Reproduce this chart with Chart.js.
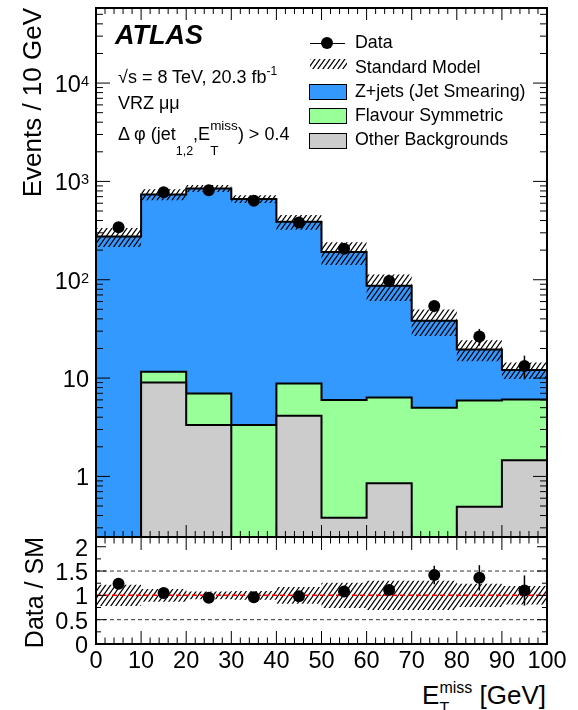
<!DOCTYPE html>
<html>
<head>
<meta charset="utf-8">
<title>VRZ mumu - missing transverse momentum</title>
<script src="https://cdn.jsdelivr.net/npm/chart.js@4.4.1/dist/chart.umd.min.js"></script>
<style>
  html, body { margin: 0; padding: 0; background: #fff; }
  #wrap { position: relative; width: 578px; height: 710px; overflow: hidden;
          font-family: "Liberation Sans", Arial, Helvetica, sans-serif; color: #000; }
  #wrap canvas { position: absolute; left: 0; }
  .t { position: absolute; white-space: nowrap; line-height: 1; }
  .ss { display: inline-block; position: relative; line-height: 1; }
  .ss .up { display: block; position: relative; }
  .ss .dn { position: absolute; left: 0; }
  .rot { position: absolute; width: 300px; text-align: right; white-space: nowrap; line-height: 1;
         transform-origin: 0 0; transform: rotate(-90deg); }
  .box { position: absolute; box-sizing: border-box; border: 1.5px solid #000; width: 38px; height: 16px; }
</style>
</head>
<body>
<div id="wrap">
  <canvas id="mainChart" width="578" height="545" style="top:0;width:578px;height:545px"></canvas>
  <canvas id="ratioChart" width="578" height="130" style="top:530px;width:578px;height:130px"></canvas>

  <!-- annotations -->
  <div class="t" style="left:115px; top:22px; font-size:27px; font-weight:bold; font-style:italic">ATLAS</div>
  <div class="t" style="left:118px; top:68px; font-size:18px">√s = 8 TeV, 20.3 fb<span style="font-size:12px; position:relative; top:-8px">-1</span></div>
  <div class="t" style="left:118px; top:94px; font-size:18px">VRZ μμ</div>
  <div class="t" style="left:118px; top:125px; font-size:18px">Δ φ (jet<span style="font-size:12.5px; position:relative; top:15px">1,2</span>,E<span class="ss" style="font-size:13.5px"><span class="up" style="top:-10px">miss</span><span class="dn" style="top:15px">T</span></span>) &gt; 0.4</div>

  <!-- legend -->
  <div style="position:absolute; left:310px; top:42.5px; width:35px; height:1.5px; background:#000"></div>
  <div style="position:absolute; left:321px; top:37px; width:12px; height:12px; border-radius:50%; background:#000"></div>
  <canvas id="legHatch" width="37" height="10" style="left:310px; top:59px"></canvas>
  <div class="box" style="left:309px; top:84px; background:#3399ff"></div>
  <div class="box" style="left:309px; top:108px; background:#99ff99"></div>
  <div class="box" style="left:309px; top:132.5px; background:#cccccc"></div>
  <div class="t" style="left:355px; top:34.3px; font-size:17.8px">Data</div>
  <div class="t" style="left:355px; top:58.5px; font-size:17.8px">Standard Model</div>
  <div class="t" style="left:355px; top:82.8px; font-size:17.8px">Z+jets (Jet Smearing)</div>
  <div class="t" style="left:355px; top:107px; font-size:17.8px">Flavour Symmetric</div>
  <div class="t" style="left:355px; top:131.3px; font-size:17.8px">Other Backgrounds</div>

  <!-- axis titles -->
  <div class="rot" style="left:19px; top:308px; font-size:26px">Events / 10 GeV</div>
  <div class="rot" style="left:22px; top:837px; font-size:25px">Data / SM</div>
  <div class="t" style="right:32px; top:682px; font-size:26px">E<span class="ss" style="font-size:16px"><span class="up" style="top:-11px">miss</span><span class="dn" style="top:10px">T</span></span> [GeV]</div>
</div>

<script>
// values (events per 10 GeV bin)
const binEdges = [0, 10, 20, 30, 40, 50, 60, 70, 80, 90, 100];
const dataEvents = [341, 774, 811, 637, 383, 207, 97, 54, 26.5, 13.3];
const dataErr = [18.5, 27.8, 28.5, 25.2, 19.6, 14.4, 9.8, 7.3, 5.1, 3.6];
const zJets = [276, 726, 842, 659, 380, 185, 80.6, 33.3, 13.6, 6.05];
const flavourSym = [0, 2.58, 3.62, 3.34, 4.67, 5.59, 5.49, 4.98, 5.42, 4.59];
const otherBkg = [0, 9.0, 3.34, 0, 4.13, 0.38, 0.85, 0, 0.49, 1.46];
const smRelUnc = [0.22, 0.13, 0.08, 0.09, 0.17, 0.26, 0.30, 0.30, 0.24, 0.19];

// ratio panel
const ratioVals = [1.24, 1.05, 0.95, 0.96, 0.98, 1.08, 1.11, 1.42, 1.36, 1.10];
const ratioErr = [0.07, 0.05, 0.04, 0.04, 0.05, 0.08, 0.11, 0.19, 0.26, 0.31];
const ratioGuides = [0.5, 1.5];

// axes
const xTickVals = [0, 10, 20, 30, 40, 50, 60, 70, 80, 90, 100];
const xTickLabels = ['0', '10', '20', '30', '40', '50', '60', '70', '80', '90', '100'];
const mainYTickVals = [1, 10, 100, 1000, 10000];
const mainYTickLabels = ['1', '10', '10^2', '10^3', '10^4'];
const ratioYTickVals = [0, 0.5, 1, 1.5, 2];
const ratioYTickLabels = ['0', '0.5', '1', '1.5', '2'];
const mainYRange = [0.242, 58000];
const ratioYRange = [0, 2.2];

const BLUE = '#3399ff', GREEN = '#99ff99', GREY = '#cccccc';
const FLOOR = 1e-3; // empty bins are pushed below the log axis

Chart.defaults.font.family = '"Liberation Sans", Arial, sans-serif';

function makeHatch() {
  const c = document.createElement('canvas');
  c.width = 5; c.height = 7;
  const g = c.getContext('2d');
  g.strokeStyle = '#000';
  g.lineWidth = 1.3;
  g.beginPath();
  [-5, 0, 5].forEach(dx => {
    g.moveTo(dx - 1, 8.4);
    g.lineTo(dx + 6, -1.4);
  });
  g.stroke();
  return g.createPattern(c, 'repeat');
}
const hatch = makeHatch();

// legend hatch swatch
(function () {
  const g = document.getElementById('legHatch').getContext('2d');
  g.fillStyle = hatch;
  g.fillRect(0, 0, 37, 10);
})();

const binCenters = binEdges.slice(0, -1).map((e, i) => (e + binEdges[i + 1]) / 2);

// histogram as a step line: value i holds from edge i to edge i+1
function stepPoints(vals) {
  return binEdges.map((e, i) => ({ x: e, y: vals[Math.min(i, vals.length - 1)] || FLOOR }));
}
function points(vals) {
  return binCenters.map((x, i) => ({ x: x, y: vals[i] }));
}

const stackOther = otherBkg;
const stackFlav = otherBkg.map((v, i) => v + flavourSym[i]);
const stackTotal = stackFlav.map((v, i) => v + zJets[i]);
const bandUp = stackTotal.map((v, i) => v * (1 + smRelUnc[i]));
const bandDn = stackTotal.map((v, i) => v * (1 - smRelUnc[i]));
const ratioUp = smRelUnc.map(u => 1 + u);
const ratioDn = smRelUnc.map(u => 1 - u);

function histSet(label, vals, color) {
  return { label, data: stepPoints(vals), stepped: true, borderColor: '#000', borderWidth: 2,
           backgroundColor: color, fill: 'start', pointRadius: 0 };
}
function bandSet(label, vals, fill) {
  return { label, data: stepPoints(vals), stepped: true, borderColor: 'rgba(0,0,0,0)', borderWidth: 1,
           backgroundColor: hatch, fill: fill, pointRadius: 0 };
}
function pointSet(label, vals) {
  return { label, data: points(vals), showLine: false, pointRadius: 6, pointStyle: 'circle',
           pointBackgroundColor: '#000', pointBorderWidth: 0 };
}

// vertical error bars on a point dataset
function errorBars(datasetIndex, errors) {
  return {
    id: 'errorBars',
    afterDatasetsDraw(chart) {
      const ctx = chart.ctx, ys = chart.scales.y;
      const ds = chart.data.datasets[datasetIndex];
      const meta = chart.getDatasetMeta(datasetIndex);
      ctx.save();
      ctx.strokeStyle = '#000';
      ctx.lineWidth = 1.5;
      meta.data.forEach((pt, i) => {
        const v = ds.data[i].y;
        ctx.beginPath();
        ctx.moveTo(pt.x, ys.getPixelForValue(v - errors[i]));
        ctx.lineTo(pt.x, ys.getPixelForValue(v + errors[i]));
        ctx.stroke();
      });
      ctx.restore();
    }
  };
}

// ROOT-like frame with inward ticks on all four sides
function frameTicks(xt, yt) {
  return {
    id: 'frameTicks',
    afterDraw(chart) {
      const ctx = chart.ctx, a = chart.chartArea;
      const xs = chart.scales.x, ys = chart.scales.y;
      ctx.save();
      ctx.strokeStyle = '#000';
      ctx.lineWidth = 1;
      ctx.beginPath();
      xt.forEach(([v, len]) => {
        const px = xs.getPixelForValue(v);
        ctx.moveTo(px, a.bottom); ctx.lineTo(px, a.bottom - len);
        ctx.moveTo(px, a.top); ctx.lineTo(px, a.top + len);
      });
      yt.forEach(([v, len]) => {
        const py = ys.getPixelForValue(v);
        ctx.moveTo(a.left, py); ctx.lineTo(a.left + len, py);
        ctx.moveTo(a.right, py); ctx.lineTo(a.right - len, py);
      });
      ctx.stroke();
      ctx.lineWidth = 2;
      ctx.strokeRect(a.left, a.top, a.right - a.left, a.bottom - a.top);
      ctx.restore();
    }
  };
}

function xTickSpec(major, minor) {
  const out = [];
  for (let v = 0; v <= 100; v += 2) out.push([v, v % 10 === 0 ? major : minor]);
  return out;
}
function logTickSpec(major, minor) {
  const out = [];
  for (let e = -1; e <= 4; e++) {
    for (let m = 1; m <= 9; m++) {
      const v = m * Math.pow(10, e);
      if (v >= mainYRange[0] && v <= mainYRange[1]) out.push([v, m === 1 ? major : minor]);
    }
  }
  return out;
}
function ratioTickSpec(major, minor) {
  const out = [];
  for (let k = 0; k * 0.25 <= ratioYRange[1]; k++) out.push([k * 0.25, k % 2 === 0 ? major : minor]);
  return out;
}

function baseOptions(yScale, padTop, xHeight) {
  return {
    responsive: false,
    animation: false,
    events: [],
    layout: { padding: { left: 0, right: 31, top: padTop, bottom: 0 }, autoPadding: false },
    plugins: { legend: { display: false }, tooltip: { enabled: false } },
    scales: {
      x: { type: 'linear', min: 0, max: 100, bounds: 'data', offset: false,
           grid: { display: false }, border: { display: false }, ticks: { display: false },
           afterFit: s => { s.height = xHeight; } },
      y: Object.assign({ grid: { display: false }, border: { display: false }, ticks: { display: false },
           afterFit: s => { s.width = 96; } }, yScale)
    }
  };
}

const mainChart = new Chart(document.getElementById('mainChart'), {
  type: 'line',
  data: {
    datasets: [
      pointSet('Data', dataEvents),
      bandSet('Standard Model', bandUp, '+1'),
      bandSet('SM low', bandDn, false),
      histSet('Other Backgrounds', stackOther, GREY),
      histSet('Flavour Symmetric', stackFlav, GREEN),
      histSet('Z+jets (Jet Smearing)', stackTotal, BLUE)
    ]
  },
  options: baseOptions({ type: 'logarithmic', min: mainYRange[0], max: mainYRange[1], bounds: 'data' }, 8, 8),
  plugins: [errorBars(0, dataErr), frameTicks(xTickSpec(12, 6), logTickSpec(14, 7))]
});

function guideSet(v, color, dash, width) {
  return { label: 'guide', data: [{ x: 0, y: v }, { x: 100, y: v }], borderColor: color,
           borderDash: dash, borderWidth: width, pointRadius: 0, fill: false };
}

const ratioChart = new Chart(document.getElementById('ratioChart'), {
  type: 'line',
  data: {
    datasets: [
      pointSet('Data / SM', ratioVals),
      guideSet(1, '#ff0000', [5, 3], 1.5),
      guideSet(ratioGuides[0], '#333', [4, 3], 1),
      guideSet(ratioGuides[1], '#333', [4, 3], 1),
      bandSet('SM unc up', ratioUp, '+1'),
      bandSet('SM unc down', ratioDn, false)
    ]
  },
  options: baseOptions({ type: 'linear', min: ratioYRange[0], max: ratioYRange[1], bounds: 'data' }, 7, 16),
  plugins: [errorBars(0, ratioErr), frameTicks(xTickSpec(13, 6.5), ratioTickSpec(10, 5))]
});

// tick labels as page text, placed through the chart scales
const wrap = document.getElementById('wrap');
function addLabel(html, style) {
  const d = document.createElement('div');
  d.className = 't';
  d.innerHTML = html;
  Object.assign(d.style, style);
  wrap.appendChild(d);
}
function supLabel(s) {
  const p = s.split('^');
  return p.length === 1 ? p[0]
    : p[0] + '<span style="font-size:0.62em; vertical-align:6.5px">' + p[1] + '</span>';
}

const RATIO_TOP = 530;
xTickVals.forEach((v, i) => {
  const px = ratioChart.scales.x.getPixelForValue(v);
  addLabel(xTickLabels[i], { left: px + 'px', top: '660.5px', fontSize: '23.5px',
                             transform: 'translate(-50%, -50%)' });
});
mainYTickVals.forEach((v, i) => {
  const py = mainChart.scales.y.getPixelForValue(v);
  addLabel(supLabel(mainYTickLabels[i]), { right: (578 - 89) + 'px', top: (py + 2) + 'px',
                                           fontSize: '23.5px', transform: 'translateY(-50%)' });
});
ratioYTickVals.forEach((v, i) => {
  const py = RATIO_TOP + ratioChart.scales.y.getPixelForValue(v);
  addLabel(ratioYTickLabels[i], { right: (578 - 88) + 'px', top: (py + 2) + 'px',
                                  fontSize: '23.5px', transform: 'translateY(-50%)' });
});
</script>
</body>
</html>
